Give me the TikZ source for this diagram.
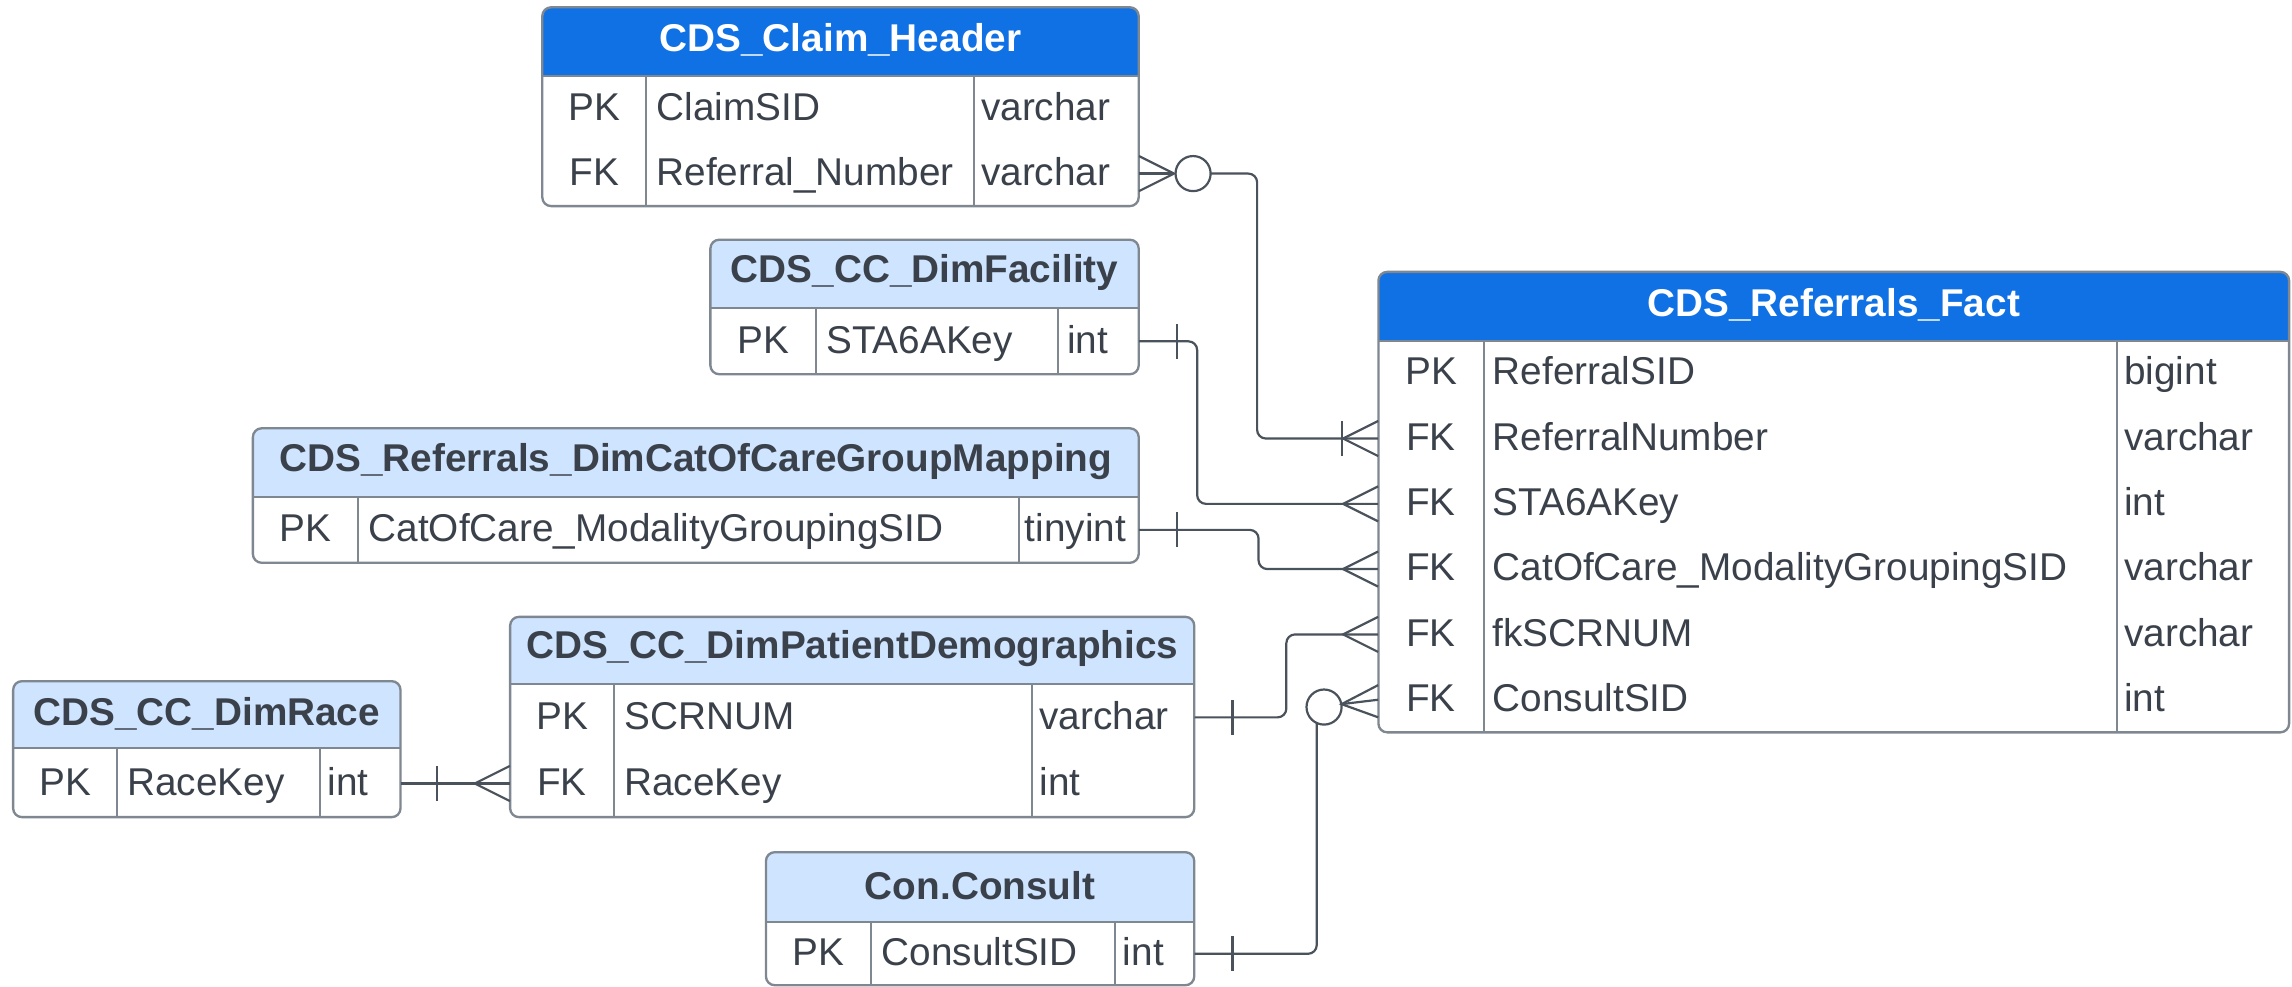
\documentclass[tikz,border=0pt]{standalone}
\usepackage{fontspec}
\setmainfont{Liberation Sans}
\usetikzlibrary{calc,fit}
\definecolor{hdrdark}{HTML}{1071E5}
\definecolor{hdrlight}{HTML}{CFE4FF}
\definecolor{txt}{HTML}{3A414A}
\definecolor{bord}{HTML}{7F8791}
\definecolor{conn}{HTML}{4A525C}
\tikzset{
  tblborder/.style={draw=bord, line width=1.6pt, rounded corners=6pt},
  divline/.style={draw=bord, line width=1.4pt},
  ttl/.style={font=\fontsize{26.5}{30}\selectfont\bfseries, inner sep=0pt},
  keycell/.style={font=\fontsize{26.5}{30}\selectfont, text=txt, inner sep=0pt, anchor=base},
  cell/.style={font=\fontsize{26.5}{30}\selectfont, text=txt, inner sep=0pt, anchor=base west},
  link/.style={draw=conn, line width=1.5pt},
}
% #1 name, #2 x1, #3 y1, #4 x2, #5 y2, #6 header bottom, #7 fill, #8 title, #9 title colour
\newcommand{\ertab}[9]{%
  \begin{scope}
    \clip[rounded corners=6pt] (#2,#3) rectangle (#4,#5);
    \fill[white] (#2,#3) rectangle (#4,#5);
    \fill[#7] (#2,#3) rectangle (#4,#6);
  \end{scope}
  \draw[tblborder] (#2,#3) rectangle (#4,#5);
  \draw[divline] (#2,#6) -- (#4,#6);
  \node[fit={(#2,#3) (#4,#5)}, inner sep=0pt] (#1) {};
  \node[ttl, text=#9] (#1-title) at ({(#2+#4)/2},{(#3+#6)/2-1}) {#8};
}
\newcommand{\ercol}[3]{\draw[divline] (#1,#2) -- (#1,#3);}
% #1 row name, #2 key x, #3 name x, #4 type x, #5 row y, #6 key, #7 field, #8 type
\newcommand{\errow}[8]{%
  \coordinate (#1) at (0,#5);
  \node[keycell] (#1-k) at ({#2},{#5+8}) {#6};
  \node[cell] (#1-f) at ({#3},{#5+8}) {#7};
  \node[cell] (#1-t) at ({#4},{#5+8}) {#8};
}
\newcommand{\crowin}[1]{\draw[link] ($(#1)+(0,-12)$) -- ($(#1)+(-24,0)$) -- ($(#1)+(0,12)$);}
\newcommand{\crowout}[1]{\draw[link] ($(#1)+(0,-12)$) -- ($(#1)+(24,0)$) -- ($(#1)+(0,12)$);}
\newcommand{\onebar}[2]{\draw[link] ($(#1)+(#2,-12)$) -- ($(#1)+(#2,12)$);}
\begin{document}
\begin{tikzpicture}[x=1pt,y=-1pt]
\useasboundingbox (0,0) rectangle (1568,675);

% ---------- tables ----------
\ertab{claim}{371}{5}{779}{141}{52}{hdrdark}{CDS\_Claim\_Header}{white}
\ercol{442}{52}{141}\ercol{666}{52}{141}
\errow{claim-r1}{406.5}{449}{671}{74.25}{PK}{ClaimSID}{varchar}
\errow{claim-r2}{406.5}{449}{671}{118.75}{FK}{Referral\_Number}{varchar}

\ertab{fac}{486}{164}{779}{256}{211}{hdrlight}{CDS\_CC\_DimFacility}{txt}
\ercol{558}{211}{256}\ercol{724}{211}{256}
\errow{fac-r1}{522}{565}{730}{233.5}{PK}{STA6AKey}{int}

\ertab{cat}{173}{293}{779}{385}{340}{hdrlight}{CDS\_Referrals\_DimCatOfCareGroupMapping}{txt}
\ercol{245}{340}{385}\ercol{697}{340}{385}
\errow{cat-r1}{209}{252}{701}{362.5}{PK}{CatOfCare\_ModalityGroupingSID}{tinyint}

\ertab{pat}{349}{422}{817}{559}{468}{hdrlight}{CDS\_CC\_DimPatientDemographics}{txt}
\ercol{420}{468}{559}\ercol{706}{468}{559}
\errow{pat-r1}{384.5}{427}{711}{490.75}{PK}{SCRNUM}{varchar}
\errow{pat-r2}{384.5}{427}{711}{536.25}{FK}{RaceKey}{int}

\ertab{race}{9}{466}{274}{559}{512}{hdrlight}{CDS\_CC\_DimRace}{txt}
\ercol{80}{512}{559}\ercol{219}{512}{559}
\errow{race-r1}{44.5}{87}{224}{536}{PK}{RaceKey}{int}

\ertab{cons}{524}{583}{817}{674}{631}{hdrlight}{Con.Consult}{txt}
\ercol{596}{631}{674}\ercol{763}{631}{674}
\errow{cons-r1}{560}{603}{768}{652.5}{PK}{ConsultSID}{int}

\ertab{fact}{943}{186}{1566}{501}{233}{hdrdark}{CDS\_Referrals\_Fact}{white}
\ercol{1015}{233}{501}\ercol{1448}{233}{501}
\errow{fact-r1}{979}{1021}{1453}{255.3}{PK}{ReferralSID}{bigint}
\errow{fact-r2}{979}{1021}{1453}{300}{FK}{ReferralNumber}{varchar}
\errow{fact-r3}{979}{1021}{1453}{344.7}{FK}{STA6AKey}{int}
\errow{fact-r4}{979}{1021}{1453}{389.3}{FK}{CatOfCare\_ModalityGroupingSID}{varchar}
\errow{fact-r5}{979}{1021}{1453}{434}{FK}{fkSCRNUM}{varchar}
\errow{fact-r6}{979}{1021}{1453}{478.7}{FK}{ConsultSID}{int}

% ---------- bend coordinates ----------
\coordinate (jA) at (860,0);
\coordinate (jB) at (819,0);
\coordinate (jC) at (861,0);
\coordinate (jD) at (880,0);

% ---------- A: Claim_Header (zero or many) -- Referrals_Fact (one or many)
\draw[link] (claim.east |- claim-r2) -- ++(24,0);
\crowout{claim.east |- claim-r2}
\draw[link] ($(claim.east |- claim-r2)+(37,0)$) circle (12pt);
\draw[link, rounded corners=6pt] ($(claim.east |- claim-r2)+(49,0)$) -| (jA |- fact-r2) -- (fact.west |- fact-r2);
\onebar{fact.west |- fact-r2}{-25}
\crowin{fact.west |- fact-r2}

% ---------- B: DimFacility (one) -- Referrals_Fact (many)
\draw[link, rounded corners=6pt] (fac.east |- fac-r1) -| (jB |- fact-r3) -- (fact.west |- fact-r3);
\onebar{fac.east |- fac-r1}{26}
\crowin{fact.west |- fact-r3}

% ---------- C: CatOfCare mapping (one) -- Referrals_Fact (many)
\draw[link, rounded corners=6pt] (cat.east |- cat-r1) -| (jC |- fact-r4) -- (fact.west |- fact-r4);
\onebar{cat.east |- cat-r1}{26}
\crowin{fact.west |- fact-r4}

% ---------- D: PatientDemographics (one) -- Referrals_Fact (many)
\draw[link, rounded corners=6pt] (pat.east |- pat-r1) -| (jD |- fact-r5) -- (fact.west |- fact-r5);
\onebar{pat.east |- pat-r1}{26}
\crowin{fact.west |- fact-r5}

% ---------- E: Con.Consult (one) -- Referrals_Fact (zero or many)
\coordinate (eC) at ($(fact.west |- fact-r6)+(-37,5)$);
\draw[link, rounded corners=6pt] (cons.east |- cons-r1) -| ($(eC)+(-5,11)$);
\onebar{cons.east |- cons-r1}{26}
\draw[link] (eC) circle (12pt);
\draw[link] ($(eC)+(12,-2)$) -- (fact.west |- fact-r6);
\draw[link] ($(fact.west |- fact-r6)+(0,-10)$) -- ($(eC)+(12,-2)$) -- ($(fact.west |- fact-r6)+(0,12)$);

% ---------- F: DimRace (one) -- PatientDemographics (many)
\draw[link] (race.east |- race-r1) -- (pat.west |- race-r1);
\onebar{race.east |- race-r1}{25}
\crowin{pat.west |- race-r1}
\end{tikzpicture}
\end{document}
